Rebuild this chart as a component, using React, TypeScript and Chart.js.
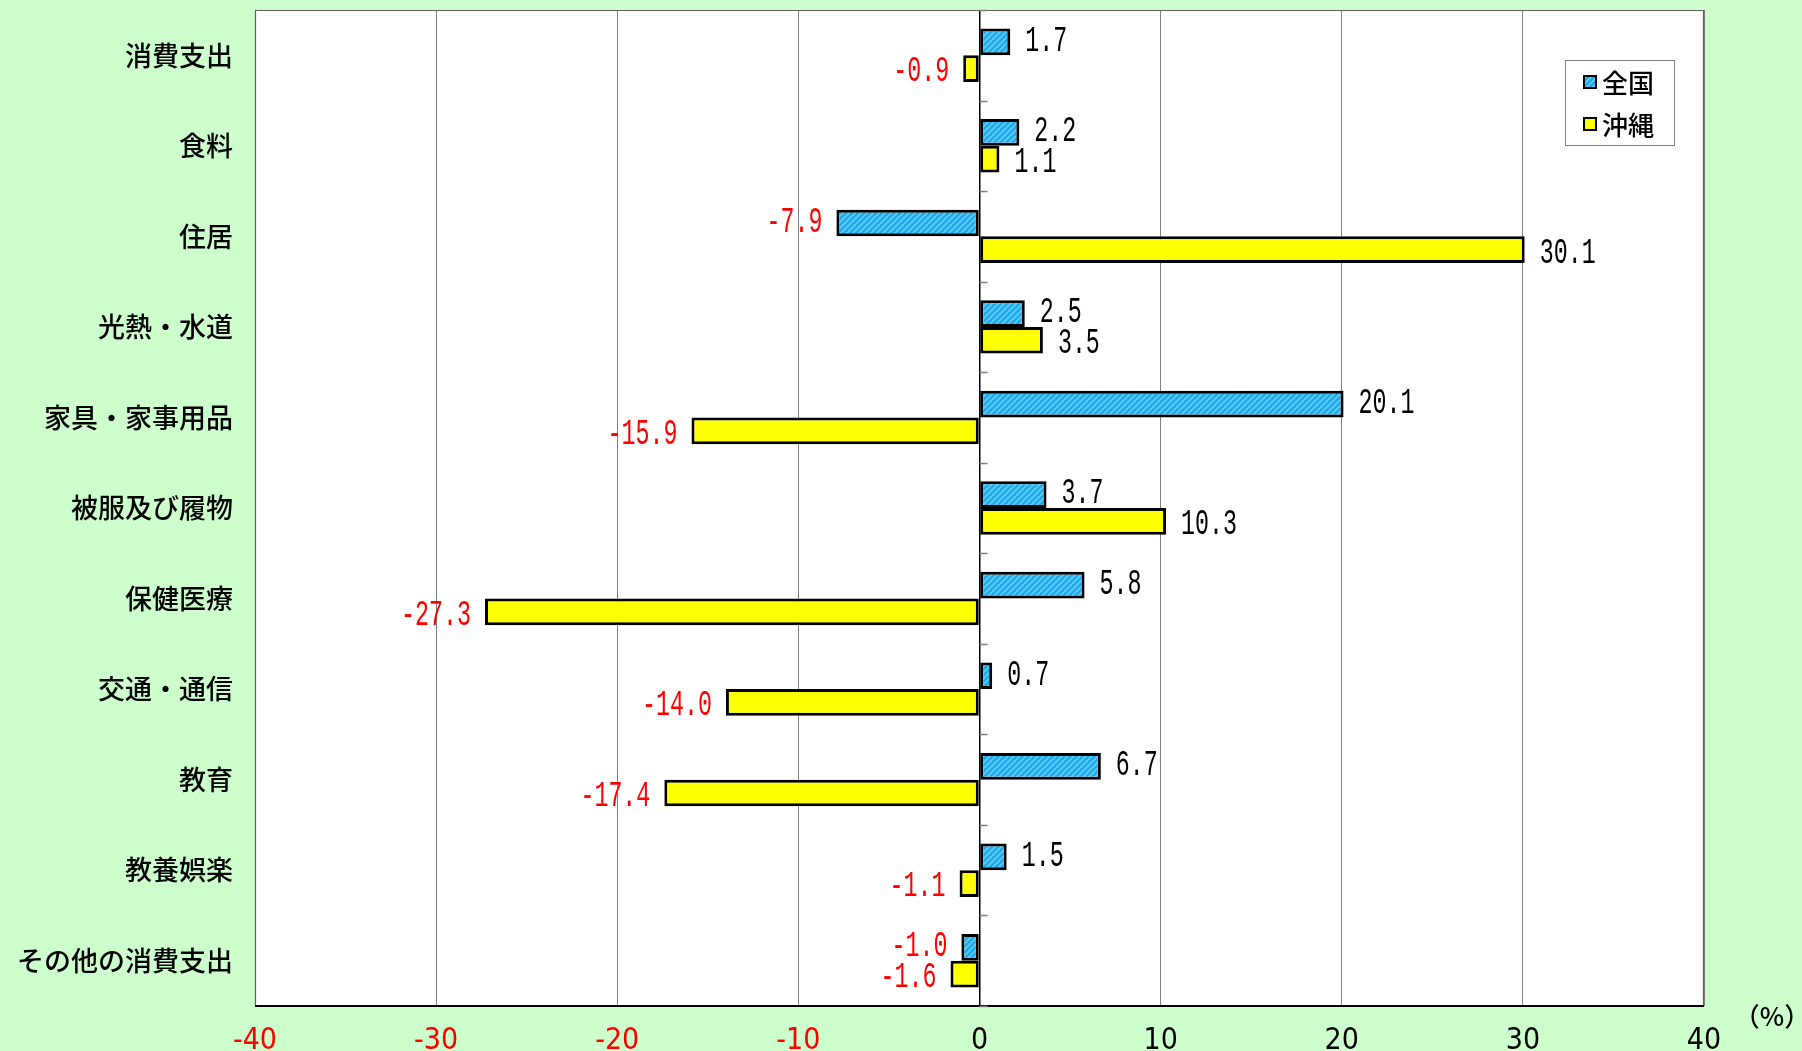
import React, { useEffect, useRef } from "react";
import { Chart, registerables } from "chart.js";
Chart.register(...registerables);

const categories = [
  "消費支出",
  "食料",
  "住居",
  "光熱・水道",
  "家具・家事用品",
  "被服及び履物",
  "保健医療",
  "交通・通信",
  "教育",
  "教養娯楽",
  "その他の消費支出",
];
const seriesNames = ["全国", "沖縄"];
const nationalValues = [1.7, 2.2, -7.9, 2.5, 20.1, 3.7, 5.8, 0.7, 6.7, 1.5, -1.0];
const okinawaValues = [-0.9, 1.1, 30.1, 3.5, -15.9, 10.3, -27.3, -14.0, -17.4, -1.1, -1.6];
const xMin = -40;
const xMax = 40;
const xStep = 10;
const unitLabel = "（%）";

const W = 1802;
const H = 1051;
const JP = '"Noto Sans CJK JP", sans-serif';
const NARROW = '"Liberation Sans Narrow", "DejaVu Sans Condensed", sans-serif';
const MONO = '"Liberation Mono", "DejaVu Sans Mono", monospace';

function makeHatch(): CanvasPattern | string {
  const c = document.createElement("canvas");
  c.width = 6;
  c.height = 6;
  const g = c.getContext("2d");
  if (!g) return "#20AAEA";
  g.fillStyle = "#20AAEA";
  g.fillRect(0, 0, 6, 6);
  g.strokeStyle = "#66D2FA";
  g.lineWidth = 1.5;
  g.beginPath();
  g.moveTo(-1, 7);
  g.lineTo(7, -1);
  g.moveTo(-1, 1);
  g.lineTo(1, -1);
  g.moveTo(5, 7);
  g.lineTo(7, 5);
  g.stroke();
  const p = g.createPattern(c, "repeat");
  return p || "#20AAEA";
}

function drawScaledText(ctx: CanvasRenderingContext2D, text: string, x: number, y: number, align: "left" | "right", color: string) {
  ctx.save();
  ctx.font = `37px ${MONO}`;
  ctx.fillStyle = color;
  ctx.textBaseline = "middle";
  ctx.textAlign = align;
  ctx.translate(x, y);
  ctx.scale(0.63, 1);
  ctx.fillText(text, 0, 0);
  ctx.restore();
}

const plotBgPlugin = {
  id: "plotBg",
  beforeDraw(chart: any) {
    const { ctx, chartArea: a } = chart;
    ctx.save();
    ctx.fillStyle = "#FFFFFF";
    ctx.fillRect(a.left, a.top, a.right - a.left, a.bottom - a.top);
    ctx.restore();
  },
};

const frameAndTicksPlugin = {
  id: "frameTicks",
  beforeDatasetsDraw(chart: any) {
    const { ctx, chartArea: a } = chart;
    ctx.save();
    ctx.strokeStyle = "#606060";
    ctx.lineWidth = 1.2;
    ctx.beginPath();
    ctx.moveTo(a.left + 0.5, a.bottom);
    ctx.lineTo(a.left + 0.5, a.top + 0.5);
    ctx.lineTo(a.right - 0.5, a.top + 0.5);
    ctx.lineTo(a.right - 0.5, a.bottom);
    ctx.stroke();
    ctx.strokeStyle = "#000000";
    ctx.lineWidth = 2;
    ctx.beginPath();
    ctx.moveTo(a.left, a.bottom);
    ctx.lineTo(a.right, a.bottom);
    ctx.stroke();
    // category tick marks on the zero line
    const ys = chart.scales.y;
    const x0 = chart.scales.x.getPixelForValue(0);
    const step = ys.getPixelForValue(1) - ys.getPixelForValue(0);
    const first = ys.getPixelForValue(0) - step / 2;
    ctx.strokeStyle = "#808080";
    ctx.lineWidth = 1.5;
    ctx.beginPath();
    for (let i = 0; i <= categories.length; i++) {
      const y = Math.round(first + i * step) + 0.5;
      ctx.moveTo(x0, y);
      ctx.lineTo(x0 + 8, y);
    }
    ctx.stroke();
    ctx.restore();
  },
};

const valueLabelPlugin = {
  id: "valueLabels",
  afterDatasetsDraw(chart: any) {
    const { ctx } = chart;
    chart.data.datasets.forEach((ds: any, di: number) => {
      const meta = chart.getDatasetMeta(di);
      meta.data.forEach((bar: any, i: number) => {
        const v = ds.data[i] as number;
        const txt = v.toFixed(1);
        const dy = di === 0 ? -1 : 3;
        if (v < 0) {
          drawScaledText(ctx, txt, bar.x - 14, bar.y + dy, "right", "#FF0000");
        } else {
          drawScaledText(ctx, txt, bar.x + 15, bar.y + dy, "left", "#000000");
        }
      });
    });
  },
};

const legendPlugin = {
  id: "customLegend",
  afterDraw(chart: any) {
    const { ctx } = chart;
    const bx = 1565;
    const by = 60;
    const bw = 109;
    const bh = 85;
    ctx.save();
    ctx.fillStyle = "#FFFFFF";
    ctx.fillRect(bx, by, bw, bh);
    ctx.strokeStyle = "#808080";
    ctx.lineWidth = 1;
    ctx.strokeRect(bx + 0.5, by + 0.5, bw, bh);
    const rowY = [82, 124];
    chart.data.datasets.forEach((ds: any, di: number) => {
      const cy = rowY[di];
      ctx.fillStyle = ds.backgroundColor;
      ctx.fillRect(1584, cy - 6, 12, 12);
      ctx.strokeStyle = "#000000";
      ctx.lineWidth = 2;
      ctx.strokeRect(1584, cy - 6, 12, 12);
      ctx.fillStyle = "#000000";
      ctx.font = `500 26px ${JP}`;
      ctx.textBaseline = "middle";
      ctx.textAlign = "left";
      ctx.fillText(ds.label, 1602, cy + 1);
    });
    // unit label
    ctx.font = `500 26px ${JP}`;
    ctx.fillStyle = "#000000";
    ctx.textAlign = "center";
    ctx.textBaseline = "middle";
    ctx.fillText(unitLabel, 1772, 1016);
    ctx.restore();
  },
};

export default function App() {
  const ref = useRef<HTMLCanvasElement | null>(null);
  useEffect(() => {
    document.body.style.margin = "0";
    document.body.style.background = "#CCFFCC";
    const canvas = ref.current;
    if (!canvas) return;
    const hatch = makeHatch();
    const chart = new Chart(canvas, {
      type: "bar",
      data: {
        labels: categories,
        datasets: [
          {
            label: seriesNames[0],
            data: nationalValues,
            backgroundColor: hatch as any,
            borderColor: "#000000",
            borderWidth: 3,
            borderSkipped: false,
            barPercentage: 1,
            categoryPercentage: 0.59,
          },
          {
            label: seriesNames[1],
            data: okinawaValues,
            backgroundColor: "#FFFF00",
            borderColor: "#000000",
            borderWidth: 3,
            borderSkipped: false,
            barPercentage: 1,
            categoryPercentage: 0.59,
          },
        ],
      },
      options: {
        indexAxis: "y",
        responsive: false,
        animation: false,
        layout: { padding: { top: 10, right: 98, left: 0, bottom: 0 } },
        plugins: { legend: { display: false }, tooltip: { enabled: false } },
        scales: {
          x: {
            min: xMin,
            max: xMax,
            ticks: {
              stepSize: xStep,
              color: (c: any) => (c.tick && c.tick.value < 0 ? "#FF0000" : "#000000"),
              font: { family: NARROW, size: 30 },
              padding: 17,
            },
            grid: {
              color: (c: any) => (c.tick && c.tick.value === 0 ? "#000000" : "#808080"),
              lineWidth: (c: any) => (c.tick && c.tick.value === 0 ? 1.5 : 1),
              drawTicks: false,
            },
            border: { display: false },
            afterFit: (s: any) => {
              s.height = 45;
              s.paddingLeft = 0;
              s.paddingRight = 0;
              s.paddingTop = 0;
              s.paddingBottom = 0;
            },
          },
          y: {
            ticks: {
              color: "#000000",
              font: { family: JP, size: 27, weight: "500" },
              padding: 22,
            },
            grid: { display: false, drawTicks: false },
            border: { display: false },
            afterFit: (s: any) => {
              s.width = 255;
              s.paddingTop = 0;
              s.paddingBottom = 0;
              s.paddingLeft = 0;
              s.paddingRight = 0;
            },
          },
        },
      } as any,
      plugins: [plotBgPlugin, frameAndTicksPlugin, valueLabelPlugin, legendPlugin],
    });
    return () => chart.destroy();
  }, []);
  return (
    <div style={{ width: W, height: H, background: "#CCFFCC" }}>
      <canvas ref={ref} width={W} height={H} style={{ display: "block" }} />
    </div>
  );
}
